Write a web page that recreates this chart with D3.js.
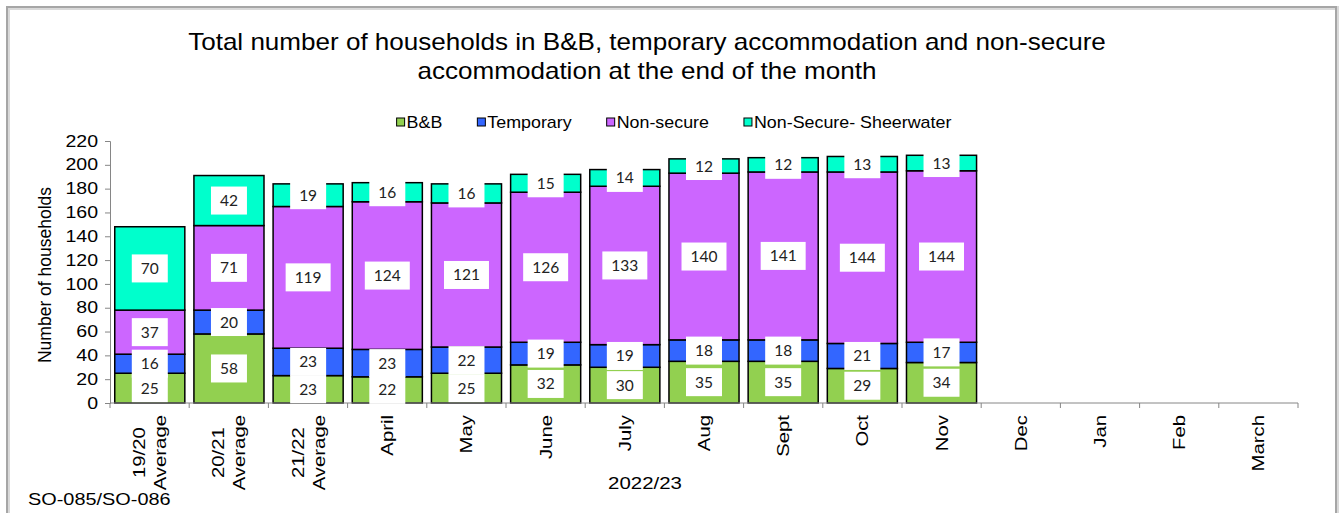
<!DOCTYPE html>
<html>
<head>
<meta charset="utf-8">
<script src="https://cdn.jsdelivr.net/npm/d3@7"></script>
<style>
  html, body { margin: 0; padding: 0; background: #fff; }
  svg { display: block; }
  text { font-family: "Liberation Sans", Arial, sans-serif; fill: #000; }
  .lbl { font-family: "Lato", "Carlito", sans-serif; }
</style>
</head>
<body>
<svg id="chart" width="1343" height="513"></svg>
<script>
const categories = ["19/20\nAverage", "20/21\nAverage", "21/22\nAverage", "April", "May", "June", "July", "Aug", "Sept", "Oct", "Nov", "Dec", "Jan", "Feb", "March"];
const seriesNames = ["B&B", "Temporary", "Non-secure", "Non-Secure- Sheerwater"];
const bnb        = [25, 58, 23, 22, 25, 32, 30, 35, 35, 29, 34, null, null, null, null];
const temporary  = [16, 20, 23, 23, 22, 19, 19, 18, 18, 21, 17, null, null, null, null];
const nonSecure  = [37, 71, 119, 124, 121, 126, 133, 140, 141, 144, 144, null, null, null, null];
const sheerwater = [70, 42, 19, 16, 16, 15, 14, 12, 12, 13, 13, null, null, null, null];
const yTicks = [0, 20, 40, 60, 80, 100, 120, 140, 160, 180, 200, 220];
const colors = ["#92d050", "#3366ff", "#cc66ff", "#00ffcc"];
const titleLines = ["Total number of households in B&B, temporary accommodation and non-secure", "accommodation at the end of the month"];
const yTitle = "Number of households";
const xTitle = "2022/23";
const footnote = "SO-085/SO-086";

const svg = d3.select("#chart");

// widen glyphs along the text direction (the reference image is stretched)
function stretch(sel, factor) {
  sel.each(function () {
    const n = this;
    const w = n.getComputedTextLength();
    d3.select(n).attr("textLength", w * factor).attr("lengthAdjust", "spacingAndGlyphs");
  });
  return sel;
}

// outer border
svg.append("rect").attr("x", 8).attr("y", 8).attr("width", 1329).attr("height", 540)
  .attr("fill", "none").attr("stroke", "#d9d9d9").attr("stroke-width", 4);
svg.append("rect").attr("x", 7).attr("y", 7).attr("width", 1329).attr("height", 540)
  .attr("fill", "none").attr("stroke", "#a6a6a6").attr("stroke-width", 2);

const pLeft = 110, pRight = 1298, pTop = 141, pBottom = 403;
const x = d3.scaleBand().domain(d3.range(categories.length)).range([pLeft, pRight]).paddingInner(0.115).paddingOuter(0.06);
const y = d3.scaleLinear().domain([0, 220]).range([pBottom, pTop]);

// title
titleLines.forEach((t, i) => {
  const tt = svg.append("text").attr("text-anchor", "middle").style("font-size", "24px")
    .attr("x", 647).attr("y", 50 + i * 29).text(t);
  stretch(tt, 1.085);
});

// legend
const legend = svg.append("g").style("font-size", "17px");
const legendGap = 35;
let lx = 0;
seriesNames.forEach((name, i) => {
  const g = legend.append("g").attr("transform", `translate(${lx},0)`);
  g.append("rect").attr("x", 0).attr("y", -10).attr("width", 8).attr("height", 8)
    .attr("fill", colors[i]).attr("stroke", "#000").attr("stroke-width", 1);
  const t = g.append("text").attr("x", 10).attr("y", 0).text(name);
  stretch(t, 1.05);
  const w = +t.attr("textLength");
  lx += 10 + w + legendGap;
});
const legendW = lx - legendGap;
legend.attr("transform", `translate(${674 - legendW / 2},128)`);

// stacked data
const rows = categories.map((c, i) => ({ i, v: [bnb[i], temporary[i], nonSecure[i], sheerwater[i]] }));
const stack = d3.stack().keys([0, 1, 2, 3]).value((d, k) => d.v[k] || 0);
const stacked = stack(rows);

// y axis
const yAxis = d3.axisLeft(y).tickValues(yTicks).tickSize(5).tickPadding(7);
const ya = svg.append("g").attr("transform", `translate(${pLeft},0)`).call(yAxis);
ya.selectAll("text").style("font-size", "16px").style("font-family", "Liberation Sans, Arial, sans-serif");
stretch(ya.selectAll("text"), 1.22);
ya.selectAll("line, path").attr("stroke", "#868686");

// bars
stacked.forEach((layer, k) => {
  svg.append("g").selectAll("rect").data(layer.filter(d => d.data.v[k] != null)).join("rect")
    .attr("x", d => x(d.data.i))
    .attr("width", x.bandwidth())
    .attr("y", d => y(d[1]))
    .attr("height", d => y(d[0]) - y(d[1]))
    .attr("fill", colors[k])
    .attr("stroke", "#000").attr("stroke-width", 1.5);
});

// x axis line and ticks at band boundaries
const xa = svg.append("g");
xa.append("line").attr("x1", pLeft).attr("x2", pRight).attr("y1", pBottom).attr("y2", pBottom)
  .attr("stroke", "#868686").attr("stroke-width", 1);
d3.range(categories.length + 1).forEach(i => {
  const xe = pLeft + (pRight - pLeft) * i / categories.length;
  xa.append("line").attr("x1", xe).attr("x2", xe).attr("y1", pBottom).attr("y2", pBottom + 5)
    .attr("stroke", "#868686");
});

// data labels
stacked.forEach((layer, k) => {
  layer.forEach(d => {
    const v = d.data.v[k];
    if (v == null) return;
    const cx = x(d.data.i) + x.bandwidth() / 2;
    const cy = y((d[0] + d[1]) / 2);
    const g = svg.append("g");
    const t = g.append("text").attr("class", "lbl").attr("x", cx).attr("y", cy + 5.5)
      .attr("text-anchor", "middle").style("font-size", "15.5px").style("fill", "#222").text(v);
    const w = t.node().getComputedTextLength();
    g.insert("rect", "text").attr("x", cx - w / 2 - 9).attr("y", cy - 14)
      .attr("width", w + 18).attr("height", 28).attr("fill", "#fff");
  });
});

// x category labels (rotated)
categories.forEach((c, i) => {
  const lines = c.split("\n");
  const cx = x(i) + x.bandwidth() / 2;
  const g = svg.append("g");
  const texts = lines.map((ln, j) => {
    const off = (j - (lines.length - 1) / 2) * 21;
    const t = g.append("text").attr("text-anchor", "middle").style("font-size", "16px")
      .attr("data-x", cx + off + 6).text(ln);
    stretch(t, 1.27);
    return t;
  });
  const maxW = d3.max(texts, t => +t.attr("textLength"));
  texts.forEach(t => {
    t.attr("transform", `translate(${t.attr("data-x")},${415 + maxW / 2}) rotate(-90)`);
  });
});

// axis titles
svg.append("text").attr("text-anchor", "middle").style("font-size", "17.5px")
  .attr("transform", `translate(51,275) rotate(-90)`).text(yTitle);
const xt = svg.append("text").attr("text-anchor", "middle").style("font-size", "17px")
  .attr("x", 645).attr("y", 489).text(xTitle);
stretch(xt, 1.2);
const fn = svg.append("text").attr("text-anchor", "start").style("font-size", "17px")
  .attr("x", 28).attr("y", 505).text(footnote);
stretch(fn, 1.17);
</script>
</body>
</html>
